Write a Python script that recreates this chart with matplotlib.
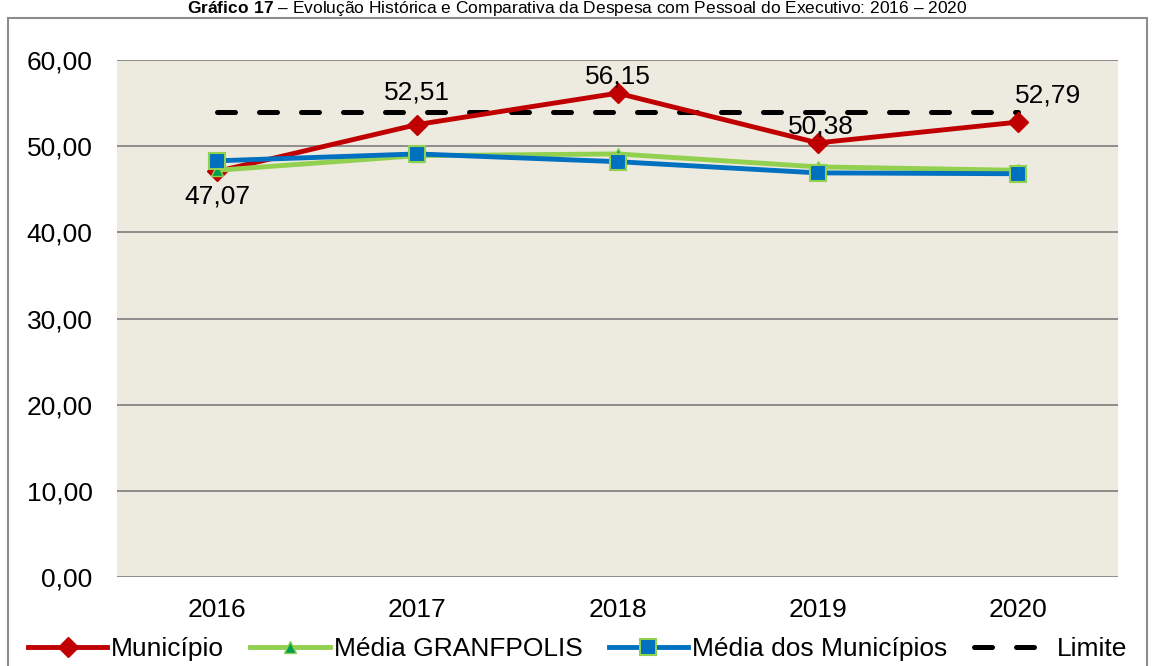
import matplotlib
matplotlib.use("Agg")
import matplotlib.pyplot as plt
from matplotlib.patches import Rectangle
from matplotlib.ticker import FuncFormatter

# dados do grafico
anos        = ["2016", "2017", "2018", "2019", "2020"]
municipio   = [47.07, 52.51, 56.15, 50.38, 52.79]
granfpolis  = [47.2, 48.9, 49.1, 47.6, 47.2]
media_munic = [48.3, 49.1, 48.2, 46.9, 46.8]
limite      = [54.0, 54.0, 54.0, 54.0, 54.0]

plt.rcParams['font.family'] = ['Liberation Sans', 'DejaVu Sans']
plt.rcParams['mathtext.fontset'] = 'custom'
plt.rcParams['mathtext.rm'] = 'Liberation Sans'
plt.rcParams['mathtext.bf'] = 'Liberation Sans:bold'

fig = plt.figure(figsize=(11.55, 6.66), dpi=100)
ax = fig.add_axes([117/1155, 1-577/666, 1001/1155, 517/666])
ax.set_facecolor("#EDEAE0")

x = list(range(len(anos)))

ax.plot(x, limite, color="black", lw=3.6, dashes=(3.6, 4.8), dash_capstyle="round",
        label="Limite", zorder=2)
ax.plot(x, municipio, color="#C00000", lw=3.5, marker="D", ms=10,
        mfc="#C00000", mec="#C00000", label="Município", zorder=3)
ax.plot(x, granfpolis, color="#92D050", lw=3.5, marker="^", ms=8,
        mfc="#00A050", mec="#92D050", label="Média GRANFPOLIS", zorder=4)
ax.plot(x, media_munic, color="#0070C0", lw=3.5, marker="s", ms=11,
        mfc="#0070C0", mec="#92D050", mew=1.5, label="Média dos Municípios", zorder=5)

# rotulos dos valores do municipio (deslocamentos em pontos)
dx = [0, 0, 0, 2, 22]
dy = [-18, 23, 12, 11.5, 19]
for i, v in enumerate(municipio):
    txt = ("%.2f" % v).replace(".", ",")
    ax.annotate(txt, (x[i], v), xytext=(dx[i], dy[i]), textcoords="offset points",
                ha="center", va="center", fontsize=19, zorder=6)

ax.set_xlim(-0.5, 4.5)
ax.set_ylim(0, 60)
ax.set_yticks(range(0, 61, 10))
ax.yaxis.set_major_formatter(FuncFormatter(lambda v, p: ("%.2f" % v).replace(".", ",")))
ax.set_xticks(x)
ax.set_xticklabels(anos)
ax.tick_params(length=0, labelsize=19)
ax.tick_params(axis="x", pad=15)
ax.tick_params(axis="y", pad=17.5)
ax.grid(axis="y", color="#868686", lw=1.3)
ax.set_axisbelow(True)
for s in ax.spines.values():
    s.set_visible(False)

# moldura externa
fig.patches.append(Rectangle((8/1155, -0.01), 1139/1155, 1-18/666+0.01,
                             transform=fig.transFigure, fill=False,
                             ec="#8C8C8C", lw=1.5))

fig.text(0.5, 1-8/666, r"$\bf{Gráfico\ 17}$ – Evolução Histórica e Comparativa da Despesa com Pessoal do Executivo: 2016 – 2020",
         ha="center", va="center", fontsize=12.5)

h, l = ax.get_legend_handles_labels()
order = [1, 2, 3, 0]
fig.legend([h[i] for i in order], [l[i] for i in order], loc="center",
           bbox_to_anchor=(0.5, 1-649/666), ncol=4, frameon=False, fontsize=19,
           handlelength=3.0, columnspacing=1.0, handletextpad=0.15)

fig.savefig("out.png", dpi=100)
